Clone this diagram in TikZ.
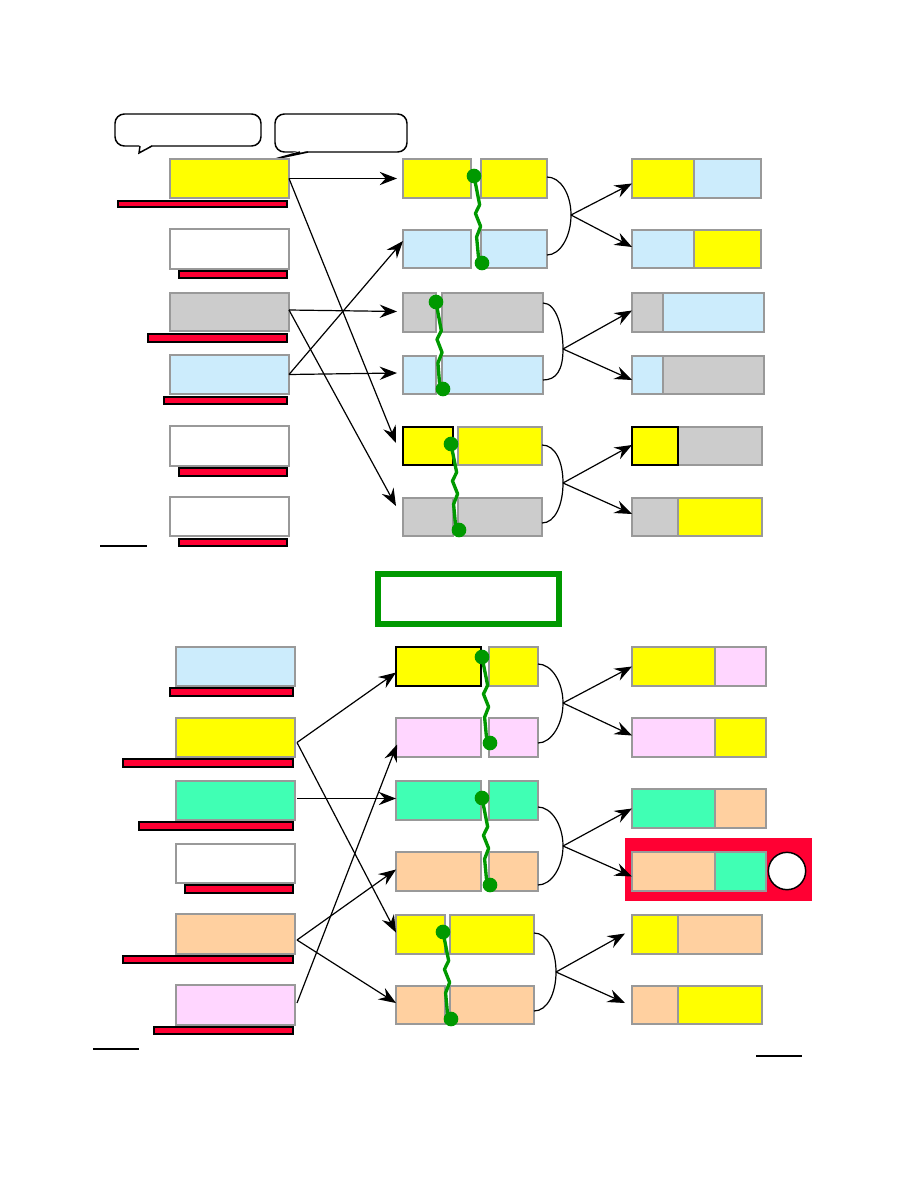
\documentclass[tikz,border=0pt]{standalone}
\usetikzlibrary{arrows.meta,calc,fit}
\definecolor{cYel}{HTML}{FFFF00}
\definecolor{cBlu}{HTML}{CCECFC}
\definecolor{cGry}{HTML}{CCCCCC}
\definecolor{cMnt}{HTML}{40FFB4}
\definecolor{cPch}{HTML}{FFD0A0}
\definecolor{cPnk}{HTML}{FFD6FF}
\definecolor{cRed}{HTML}{FF0033}
\definecolor{cGrn}{HTML}{009900}
\definecolor{cBord}{HTML}{999999}
\newcommand\wiggle[3]{%
  \draw[wig] (#1) -- ($(#1)!0.33!(#2)+(3,0)$) -- ($(#1)!0.43!(#2)+(-2,0)$)
    -- ($(#1)!0.58!(#2)+(2,0)$) -- ($(#1)!0.70!(#2)+(-3,0)$)
    -- ($(#1)!0.92!(#2)+(-3,0)$) -- (#2);
  \node[dot] (#3t) at (#1) {};
  \node[dot] (#3b) at (#2) {};}
\begin{document}
\begin{tikzpicture}[x=0.75pt,y=-0.75pt,
  box/.style={draw=cBord, line width=1.3pt, inner sep=0pt, outer sep=0pt},
  hbox/.style={draw=black, line width=1.3pt, inner sep=0pt, outer sep=0pt},
  rbar/.style={fill=cRed, draw=black, line width=1.1pt, inner sep=0pt, outer sep=0pt},
  arr/.style={line width=0.9pt, -{Stealth[length=13pt,width=10pt,inset=4.5pt]}},
  brk/.style={line width=0.9pt},
  bin/.style={out=0, in=90, out distance=10pt, in distance=16pt},
  bout/.style={out=-90, in=0, out distance=16pt, in distance=10pt},
  wig/.style={draw=cGrn, line width=2.5pt, line join=round, line cap=round},
  dot/.style={circle, fill=cGrn, inner sep=0pt, minimum size=11pt},
  callout/.style={draw=black, fill=white, line width=1.1pt, rounded corners=7pt, inner sep=0pt},
  thinline/.style={line width=1pt, draw=black},
]
\useasboundingbox (0,0) rectangle (918,1188);

% ---------- callouts ----------
\node[callout, fit={(115,114)(261,146)}] (co1) {};
\fill[white] (139.5,144.5) -- (139,153) -- (152.5,144.5) -- cycle;
\draw[line width=1.1pt, line join=miter] (140,146) -- (139,153) -- (152,146);
\node[callout, fit={(275,114)(407,152)}] (co2) {};
\fill[white] (299.5,150.5) -- (275,159) -- (308.5,150.5) -- cycle;
\draw[line width=1.1pt] (300,152) -- (275,159) -- (308,152);

% ---------- top left column ----------
\node[box, fill=cYel, fit={(170,159)(289,198)}] (A1) {};
\node[rbar, fit={(118,201)(287,207)}] (R1) {};
\node[box, fill=white, fit={(170,229)(289,269)}] (A2) {};
\node[rbar, fit={(179,271)(287,278)}] (R2) {};
\node[box, fill=cGry, fit={(170,293)(289,331)}] (A3) {};
\node[rbar, fit={(148,334)(287,342)}] (R3) {};
\node[box, fill=cBlu, fit={(170,355)(289,394)}] (A4) {};
\node[rbar, fit={(164,397)(287,404)}] (R4) {};
\node[box, fill=white, fit={(170,426)(289,466)}] (A5) {};
\node[rbar, fit={(179,468)(287,476)}] (R5) {};
\node[box, fill=white, fit={(170,497)(289,536)}] (A6) {};
\node[rbar, fit={(179,539)(287,546)}] (R6) {};
\coordinate (L1a) at (100,546); \coordinate (L1b) at (147,546);
\draw[thinline] (L1a) -- (L1b);

% ---------- top middle column ----------
\node[box, fill=cYel, fit={(403,159)(471,198)}] (B1a) {};
\node[box, fill=cYel, fit={(481,159)(547,198)}] (B1b) {};
\node[box, fill=cBlu, fit={(403,230)(471,268)}] (B2a) {};
\node[box, fill=cBlu, fit={(481,230)(547,268)}] (B2b) {};
\node[box, fill=cGry, fit={(403,293)(436,332)}] (B3a) {};
\node[box, fill=cGry, fit={(442,293)(543,332)}] (B3b) {};
\node[box, fill=cBlu, fit={(403,356)(436,394)}] (B4a) {};
\node[box, fill=cBlu, fit={(442,356)(543,394)}] (B4b) {};
\node[hbox, fill=cYel, fit={(403,427)(453,465)}] (B5a) {};
\node[box, fill=cYel, fit={(458,427)(542,465)}] (B5b) {};
\node[box, fill=cGry, fit={(403,498)(453,536)}] (B6a) {};
\node[box, fill=cGry, fit={(458,498)(542,536)}] (B6b) {};

% ---------- top right column ----------
\node[box, fill=cYel, fit={(632,159)(694,198)}] (C1a) {};
\node[box, fill=cBlu, fit={(694,159)(761,198)}] (C1b) {};
\node[box, fill=cBlu, fit={(632,230)(694,268)}] (C2a) {};
\node[box, fill=cYel, fit={(694,230)(761,268)}] (C2b) {};
\node[box, fill=cGry, fit={(632,293)(663,332)}] (C3a) {};
\node[box, fill=cBlu, fit={(663,293)(764,332)}] (C3b) {};
\node[box, fill=cBlu, fit={(632,356)(663,394)}] (C4a) {};
\node[box, fill=cGry, fit={(663,356)(764,394)}] (C4b) {};
\node[box, fill=cGry, fit={(678,427)(762,465)}] (C5b) {};
\node[hbox, fill=cYel, fit={(632,427)(678,465)}] (C5a) {};
\node[box, fill=cGry, fit={(632,498)(678,536)}] (C6a) {};
\node[box, fill=cYel, fit={(678,498)(762,536)}] (C6b) {};

% ---------- top arrows left -> middle ----------
\draw[arr] (A1.east) -- ($(B1a.west)+(-6,0)$);
\draw[arr] (A1.east) -- ($(B5a.west)+(-7,-3)$);
\draw[arr] ($(A3.east)+(0,-2)$) -- ($(B3a.west)+(-6,-1)$);
\draw[arr] ($(A3.east)+(0,-2)$) -- ($(B6a.west)+(-7,-11)$);
\draw[arr] (A4.east) -- ($(B4a.west)+(-6,-2)$);
\draw[arr] (A4.east) -- ($(B2a.west)+(0,-8)$);

% ---------- top brackets ----------
\coordinate (v1) at (571,215);
\coordinate (v2) at (563,349);
\coordinate (v3) at (563,483);
\draw[brk] (547,177) to[bin] (v1) to[bout] (547,255);
\draw[brk] (543,303) to[bin] (v2) to[bout] (543,380);
\draw[brk] (542,445) to[bin] (v3) to[bout] (542,523);
\draw[arr] (v1) -- ($(C1a.west)+(0,5)$);
\draw[arr] (v1) -- ($(C2a.west)+(0,-2)$);
\draw[arr] (v2) -- ($(C3a.west)+(0,-2)$);
\draw[arr] (v2) -- ($(C4a.west)+(0,5)$);
\draw[arr] (v3) -- ($(C5a.west)+(0,-1)$);
\draw[arr] (v3) -- ($(C6a.west)+(0,-3)$);

% ---------- top wiggles ----------
\wiggle{474,176}{482,263}{w1}
\wiggle{436,302}{443,389}{w2}
\wiggle{451,444}{459,530}{w3}

% ---------- green frame ----------
\node[draw=cGrn, line width=4.5pt, inner sep=0pt, fit={(378,574)(559,624)}] (G) {};

% ---------- bottom left column ----------
\node[box, fill=cBlu, fit={(176,647)(295,686)}] (D1) {};
\node[rbar, fit={(170,688)(293,696)}] (S1) {};
\node[box, fill=cYel, fit={(176,718)(295,757)}] (D2) {};
\node[rbar, fit={(123,759)(293,767)}] (S2) {};
\node[box, fill=cMnt, fit={(176,781)(295,820)}] (D3) {};
\node[rbar, fit={(139,822)(293,830)}] (S3) {};
\node[box, fill=white, fit={(176,844)(295,883)}] (D4) {};
\node[rbar, fit={(185,885)(293,893)}] (S4) {};
\node[box, fill=cPch, fit={(176,914)(295,954)}] (D5) {};
\node[rbar, fit={(123,956)(293,963)}] (S5) {};
\node[box, fill=cPnk, fit={(176,985)(295,1025)}] (D6) {};
\node[rbar, fit={(154,1027)(293,1034)}] (S6) {};
\coordinate (L2a) at (93,1049); \coordinate (L2b) at (139,1049);
\draw[thinline] (L2a) -- (L2b);

% ---------- bottom middle column ----------
\node[hbox, fill=cYel, fit={(396,647)(481,686)}] (E1a) {};
\node[box, fill=cYel, fit={(489,647)(538,686)}] (E1b) {};
\node[box, fill=cPnk, fit={(396,718)(481,757)}] (E2a) {};
\node[box, fill=cPnk, fit={(489,718)(538,757)}] (E2b) {};
\node[box, fill=cMnt, fit={(396,781)(481,820)}] (E3a) {};
\node[box, fill=cMnt, fit={(489,781)(538,820)}] (E3b) {};
\node[box, fill=cPch, fit={(396,852)(481,891)}] (E4a) {};
\node[box, fill=cPch, fit={(489,852)(538,891)}] (E4b) {};
\node[box, fill=cYel, fit={(396,915)(445,954)}] (E5a) {};
\node[box, fill=cYel, fit={(450,915)(534,954)}] (E5b) {};
\node[box, fill=cPch, fit={(396,986)(445,1024)}] (E6a) {};
\node[box, fill=cPch, fit={(450,986)(534,1024)}] (E6b) {};

% ---------- bottom right column ----------
\node[box, fill=cYel, fit={(632,647)(715,686)}] (F1a) {};
\node[box, fill=cPnk, fit={(715,647)(766,686)}] (F1b) {};
\node[box, fill=cPnk, fit={(632,718)(715,757)}] (F2a) {};
\node[box, fill=cYel, fit={(715,718)(766,757)}] (F2b) {};
\node[box, fill=cMnt, fit={(632,789)(715,828)}] (F3a) {};
\node[box, fill=cPch, fit={(715,789)(766,828)}] (F3b) {};
\node[fill=cRed, inner sep=0pt, fit={(625,838)(812,901)}] (HL) {};
\node[box, fill=cPch, fit={(632,852)(715,891)}] (F4a) {};
\node[box, fill=cMnt, fit={(715,852)(766,891)}] (F4b) {};
\node[circle, draw=black, fill=white, line width=1.1pt, minimum size=28pt, inner sep=0pt] (O) at (787,871) {};
\node[box, fill=cYel, fit={(632,915)(678,954)}] (F5a) {};
\node[box, fill=cPch, fit={(678,915)(762,954)}] (F5b) {};
\node[box, fill=cPch, fit={(632,986)(678,1024)}] (F6a) {};
\node[box, fill=cYel, fit={(678,986)(762,1024)}] (F6b) {};
\coordinate (L3a) at (756,1056); \coordinate (L3b) at (802,1056);
\draw[thinline] (L3a) -- (L3b);

% ---------- bottom arrows left -> middle ----------
\draw[arr] ($(D2.east)+(2,5)$) -- ($(E1a.west)+(0,6)$);
\draw[arr] ($(D2.east)+(2,5)$) -- ($(E5a.west)+(0,-2)$);
\draw[arr] ($(D3.east)+(2,-2)$) -- ($(E3a.west)+(0,-2)$);
\draw[arr] ($(D5.east)+(2,6)$) -- ($(E4a.west)+(0,-2)$);
\draw[arr] ($(D5.east)+(2,6)$) -- ($(E6a.west)+(0,-2)$);
\draw[arr] ($(D6.east)+(2,-2)$) -- ($(E2a.west)+(1,7)$);

% ---------- bottom brackets ----------
\coordinate (v4) at (563,703);
\coordinate (v5) at (563,846);
\coordinate (v6) at (556,972);
\draw[brk] (538,664) to[bin] (v4) to[bout] (538,743);
\draw[brk] (538,807) to[bin] (v5) to[bout] (538,885);
\draw[brk] (534,933) to[bin] (v6) to[bout] (534,1011);
\draw[arr] (v4) -- ($(F1a.west)+(0,0)$);
\draw[arr] (v4) -- ($(F2a.west)+(0,-2)$);
\draw[arr] (v5) -- ($(F3a.west)+(0,0)$);
\draw[arr] (v5) -- ($(F4a.west)+(0,5)$);
\draw[arr] (v6) -- ($(F5a.west)+(-7,-1)$);
\draw[arr] (v6) -- ($(F6a.west)+(-7,-2)$);

% ---------- bottom wiggles ----------
\wiggle{482,657}{490,743}{w4}
\wiggle{482,798}{490,885}{w5}
\wiggle{443,932}{451,1019}{w6}
\end{tikzpicture}
\end{document}
